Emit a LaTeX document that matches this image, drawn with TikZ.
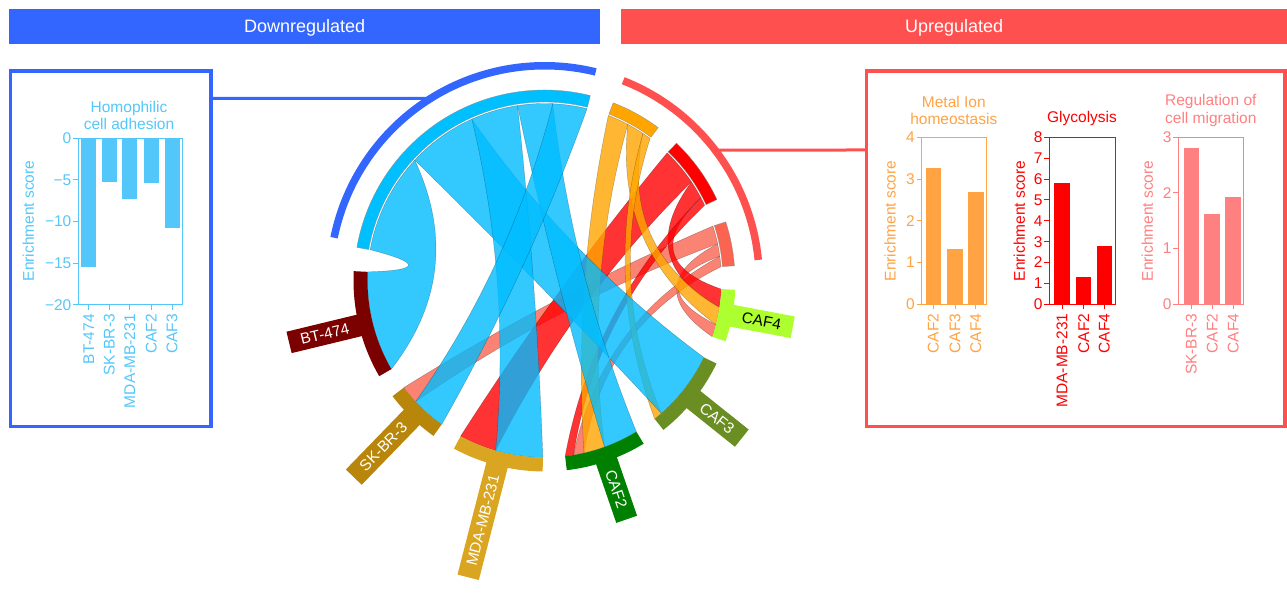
\documentclass[tikz,border=0pt]{standalone}
\usepackage{fontspec}
\setmainfont{Liberation Sans}
\usetikzlibrary{calc}
\definecolor{downblue}{RGB}{51,102,255}
\definecolor{upred}{RGB}{255,80,80}
\definecolor{homo}{RGB}{0,191,255}
\definecolor{homochord}{RGB}{0,188,255}
\definecolor{homobar}{RGB}{84,199,250}
\definecolor{metal}{RGB}{255,165,0}
\definecolor{metalbar}{RGB}{255,163,67}
\definecolor{glyc}{RGB}{255,0,0}
\definecolor{migr}{RGB}{250,100,80}
\definecolor{migrbar}{RGB}{255,128,128}
\definecolor{btcol}{RGB}{123,0,0}
\definecolor{skcol}{RGB}{184,134,11}
\definecolor{mdacol}{RGB}{218,165,32}
\definecolor{cafii}{RGB}{0,128,0}
\definecolor{cafiii}{RGB}{107,142,35}
\definecolor{cafiv}{RGB}{173,255,47}
\newcommand\chf{\fontsize{15.5}{17.5}\selectfont}
\newcommand\labf{\fontsize{15.4}{17}\selectfont}
\def\R{177}
\def\kk{0.55}
\newcommand\edgectl[2]{%
  \pgfmathsetmacro\cdd{mod((#2)-(#1)+540,360)-180}%
  \pgfmathsetmacro\cmu{(#1)+\cdd/2}%
  \pgfmathsetmacro\crc{\kk*\R*cos(\cdd/2)}%
  \pgfmathsetmacro\cax{\R*cos(#1)/3+2*\crc*cos(\cmu)/3}%
  \pgfmathsetmacro\cay{\R*sin(#1)/3+2*\crc*sin(\cmu)/3}%
  \pgfmathsetmacro\cbx{\R*cos(#2)/3+2*\crc*cos(\cmu)/3}%
  \pgfmathsetmacro\cby{\R*sin(#2)/3+2*\crc*sin(\cmu)/3}%
}
\newcommand\ribbon[5]{%
  \edgectl{#3}{#4}%
  \let\pax\cax \let\pay\cay \let\pbx\cbx \let\pby\cby
  \edgectl{#5}{#2}%
  \path[chord=#1] (#2:\R) arc[start angle=#2,end angle=#3,radius=\R]
    .. controls (\pax,\pay) and (\pbx,\pby) .. (#4:\R)
    arc[start angle=#4,end angle=#5,radius=\R]
    .. controls (\cax,\cay) and (\cbx,\cby) .. cycle;
}
\newcommand\termring[3]{\fill[#1, draw=black!45, line width=0.3pt] (#2:178.5) arc[start angle=#2,end angle=#3,radius=178.5] -- (#3:190.5) arc[start angle=#3,end angle=#2,radius=190.5] -- cycle;}
\newcommand\cellband[3]{\fill[#1] (#2:177) arc[start angle=#2,end angle=#3,radius=177] -- (#3:191) arc[start angle=#3,end angle=#2,radius=191] -- cycle;}
\tikzset{
  chord/.style={fill=#1, fill opacity=0.8, draw=black, draw opacity=0.3, line width=0.4pt},
  cellstem/.style={fill=#1, text=white, minimum height=22pt, inner xsep=12pt, inner ysep=0pt, font=\labf},
  axl/.style={line width=1pt},
  ticklab/.style={anchor=east, inner sep=0pt, font=\chf},
  xlab/.style={rotate=90, anchor=east, inner sep=0pt, font=\chf},
  ylab/.style={rotate=90, inner sep=0pt, font=\chf},
  ttl/.style={align=center, inner sep=0pt, font=\chf},
  hdr/.style={fill=#1, text=white, anchor=north west, inner sep=0pt, minimum height=35pt, text height=13pt, text depth=0pt, font=\fontsize{18}{20}\selectfont},
}
\begin{document}
\begin{tikzpicture}[x=1pt,y=1pt]
\useasboundingbox (0,0) rectangle (1287,593);
\begin{scope}[shift={(544.5,312.5)}]
  \coordinate (blueAtt) at (121.95:214.75);
  \coordinate (redAtt) at (37.4:214.75);
\end{scope}
% ---------------- panels (pixel coordinates, y downward)
\begin{scope}[shift={(0,593)},y=-1pt]
  \node[hdr=downblue, minimum width=591pt] (down) at (9,8.5) {Downregulated};
  \node[hdr=upred, minimum width=666pt] (up) at (621,8.5) {Upregulated};
  \draw[downblue, line width=3.5pt] (10.5,71) rectangle (211,426.5);
  \draw[upred, line width=3.5pt] (866.5,71) rectangle (1285,426.5);
  \coordinate (lpEdge) at (211,98.3);
  \coordinate (rpEdge) at (866.5,150);
  \draw[downblue, line width=3pt] (blueAtt) -- (lpEdge);
  \draw[upred, line width=3pt] (redAtt) -- (rpEdge);
  % ---- left chart
  \begin{scope}[homobar, text=homobar]
    \foreach \x/\v/\n [count=\i] in {88.8/15.5/BT-474, 109.2/5.3/SK-BR-3, 129.8/7.3/MDA-MB-231, 151.3/5.4/CAF2, 172/10.8/CAF3}{
      \fill (\x-7.5,138.3) rectangle (\x+7.5,138.3+8.333*\v);
      \draw[axl] (\x,305) -- (\x,310);
      \node[xlab] (hx\i) at (\x,314) {\n};
    }
    \foreach \v/\t [count=\i] in {0/0,5/−5,10/−10,15/−15,20/−20}{
      \draw[axl] (78.3,138.3+8.333*\v) -- (73.3,138.3+8.333*\v);
      \node[ticklab] (hy\i) at (71.5,138.3+8.333*\v) {\t};
    }
    \draw[axl] (78.3,138.3) rectangle (182.7,305);
    \node[ylab] (hyl) at (28.3,221) {Enrichment score};
    \node[ttl] (htl) at (129,115.5) {Homophilic\\cell adhesion};
  \end{scope}
  % ---- metal ion
  \begin{scope}[metalbar, text=metalbar]
    \foreach \x/\v/\n [count=\i] in {933.3/3.27/CAF2, 955/1.33/CAF3, 975.8/2.7/CAF4}{
      \fill (\x-7.75,304.3) rectangle (\x+7.75,304.3-41.75*\v);
      \draw[axl] (\x,304.3) -- (\x,309.3);
      \node[xlab] (mx\i) at (\x,313.5) {\n};
    }
    \foreach \v [count=\i] in {0,...,4}{
      \draw[axl] (921.7,304.3-41.75*\v) -- (916.7,304.3-41.75*\v);
      \node[ticklab] (my\i) at (915,304.3-41.75*\v) {\v};
    }
    \draw[axl] (921.7,137.3) rectangle (986,304.3);
    \node[ylab] (myl) at (890,221) {Enrichment score};
    \node[ttl] (mtl) at (953.8,110.3) {Metal Ion\\homeostasis};
  \end{scope}
  % ---- glycolysis
  \begin{scope}[glyc, text=glyc]
    \foreach \x/\v/\n [count=\i] in {1062/5.8/MDA-MB-231, 1083.7/1.3/CAF2, 1104.3/2.8/CAF4}{
      \fill (\x-7.75,304.3) rectangle (\x+7.75,304.3-20.875*\v);
      \draw[axl] (\x,304.3) -- (\x,309.3);
      \node[xlab] (gx\i) at (\x,313.5) {\n};
    }
    \foreach \v [count=\i] in {0,...,8}{
      \draw[axl] (1049.3,304.3-20.875*\v) -- (1044.3,304.3-20.875*\v);
      \node[ticklab] (gy\i) at (1042.6,304.3-20.875*\v) {\v};
    }
    \draw[axl] (1049.3,137.3) rectangle (1115,304.3);
    \node[ylab] (gyl) at (1019.3,221) {Enrichment score};
    \node[ttl] (gtl) at (1082,119) {Glycolysis};
  \end{scope}
  % ---- regulation of cell migration
  \begin{scope}[migrbar, text=migrbar]
    \foreach \x/\v/\n [count=\i] in {1191.3/2.8/SK-BR-3, 1212.2/1.63/CAF2, 1233.2/1.93/CAF4}{
      \fill (\x-7.75,304.3) rectangle (\x+7.75,304.3-55.67*\v);
      \draw[axl] (\x,304.3) -- (\x,309.3);
      \node[xlab] (rx\i) at (\x,313.5) {\n};
    }
    \foreach \v [count=\i] in {0,...,3}{
      \draw[axl] (1178.3,304.3-55.67*\v) -- (1173.3,304.3-55.67*\v);
      \node[ticklab] (ry\i) at (1171.6,304.3-55.67*\v) {\v};
    }
    \draw[axl] (1178.3,137.3) rectangle (1243.3,304.3);
    \node[ylab] (ryl) at (1147.3,221) {Enrichment score};
    \node[ttl] (rtl) at (1210.8,110.3) {Regulation of\\cell migration};
  \end{scope}
\end{scope}
% ---------------- chord diagram
\begin{scope}[shift={(544.5,312.5)}]
  \draw[downblue, line width=7.5pt] (168.5:214.75) arc[start angle=168.5,end angle=76.2,radius=214.75];
  \draw[upred, line width=7.5pt] (68.5:214.75) arc[start angle=68.5,end angle=5.5,radius=214.75];
  % term rings
  \termring{homo}{170}{76.08}
  \termring{metal}{68.85}{53.37}
  \termring{glyc}{46.14}{25.15}
  \termring{migr}{17.92}{4.44}
  % chords
  \ribbon{migr}{17.92}{11.98}{-136.78}{-142.72}
  \ribbon{migr}{11.98}{7.89}{-14.45}{-18.54}
  \ribbon{migr}{7.89}{4.44}{-77.1}{-80.56}
  \ribbon{glyc}{46.14}{33.84}{-106.02}{-118.32}
  \ribbon{glyc}{33.84}{27.9}{-2.79}{-8.73}
  \ribbon{glyc}{27.9}{25.15}{-80.56}{-83.31}
  \ribbon{metal}{68.85}{61.92}{-70.17}{-77.1}
  \ribbon{metal}{61.92}{56.2}{-8.73}{-14.45}
  \ribbon{metal}{56.2}{53.37}{-48.67}{-51.49}
  \ribbon{homochord}{170}{137.14}{-149.94}{-182.8}
  \ribbon{homochord}{137.14}{114.24}{-25.77}{-48.67}
  \ribbon{homochord}{114.24}{98.77}{-90.54}{-106.02}
  \ribbon{homochord}{98.77}{87.32}{-58.72}{-70.17}
  \ribbon{homochord}{87.32}{76.08}{-125.54}{-136.78}
  % cell bands and labels
  \cellband{cafiv}{-2.79}{-18.54}
  \cellband{cafiii}{-25.77}{-51.49}
  \cellband{cafii}{-58.72}{-83.31}
  \cellband{mdacol}{-90.54}{-118.31}
  \cellband{skcol}{-125.54}{-142.71}
  \cellband{btcol}{-149.94}{-182.8}
  \node[cellstem=cafiv, text=black, rotate=-10.665, anchor=west] (caf4) at (-10.665:189) {CAF4};
  \node[cellstem=cafiii, rotate=-38.63, anchor=west] (caf3) at (-38.63:189) {CAF3};
  \node[cellstem=cafii, rotate=-71.015, anchor=west] (caf2) at (-71.015:189) {CAF2};
  \node[cellstem=mdacol, rotate=75.575, anchor=east] (mda) at (255.575:189) {MDA-MB-231};
  \node[cellstem=skcol, rotate=45.875, anchor=east] (sk) at (225.875:189) {SK-BR-3};
  \node[cellstem=btcol, rotate=13.63, anchor=east] (bt) at (193.63:189) {BT-474};
\end{scope}
\end{tikzpicture}
\end{document}
